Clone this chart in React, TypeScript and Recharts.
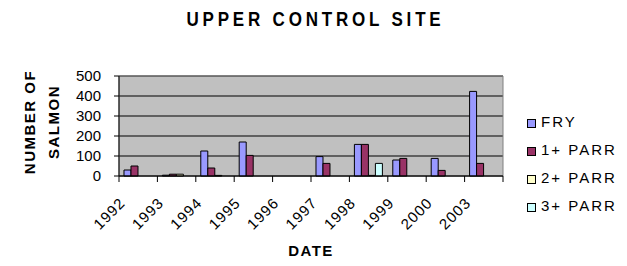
import React from "react";
import {
  BarChart,
  Bar,
  XAxis,
  YAxis,
  CartesianGrid,
  ReferenceArea,
} from "recharts";

const years = ["1992", "1993", "1994", "1995", "1996", "1997", "1998", "1999", "2000", "2003"];
const fry = [30, 4, 125, 170, 0, 97, 158, 80, 88, 423];
const parr1 = [50, 9, 40, 103, 0, 63, 158, 88, 28, 63];
const parr2 = [0, 9, 3, 0, 0, 0, 3, 0, 0, 0];
const parr3 = [0, 0, 0, 0, 0, 0, 63, 0, 0, 0];
const yTicks = [0, 100, 200, 300, 400, 500];

const series = [
  { key: "fry", name: "FRY", color: "#9999FF" },
  { key: "parr1", name: "1+ PARR", color: "#993366" },
  { key: "parr2", name: "2+ PARR", color: "#FFFFCC" },
  { key: "parr3", name: "3+ PARR", color: "#CCFFFF" },
];

const data = years.map((year, i) => ({
  year,
  fry: fry[i],
  parr1: parr1[i],
  parr2: parr2[i],
  parr3: parr3[i],
}));

const FONT = "'Liberation Sans', Arial, sans-serif";
const BAND = 38.4;

// excel style: tick marks between categories, labels slanted
function XTick(props: any) {
  const { x, y, payload, index } = props;
  const last = index === years.length - 1;
  return (
    <g>
      <line x1={x - BAND / 2} y1={y} x2={x - BAND / 2} y2={y + 6} stroke="#000" />
      {last && <line x1={x + BAND / 2} y1={y} x2={x + BAND / 2} y2={y + 6} stroke="#000" />}
      <text
        x={0}
        y={0}
        transform={`translate(${x - 12},${y + 28}) rotate(-45)`}
        textAnchor="end"
        fontSize={15}
        letterSpacing={1}
        fontFamily={FONT}
        fill="#000"
      >
        {payload.value}
      </text>
    </g>
  );
}

export default function App() {
  return (
    <div
      style={{
        position: "absolute",
        left: 0,
        top: 0,
        width: 627,
        height: 266,
        background: "#fff",
        fontFamily: FONT,
      }}
    >
      <BarChart
        width={627}
        height={266}
        data={data}
        margin={{ top: 76, right: 124, bottom: 0, left: 59 }}
        barCategoryGap="13%"
        barGap={0}
      >
        <CartesianGrid vertical={false} stroke="#000" fill="#C0C0C0" fillOpacity={1} />
        <ReferenceArea y1={0} y2={500} fill="none" stroke="#808080" strokeWidth={1} />
        <XAxis
          dataKey="year"
          tick={<XTick />}
          tickLine={false}
          tickSize={0}
          tickMargin={0}
          axisLine={{ stroke: "#000" }}
          interval={0}
          height={90}
        />
        <YAxis
          domain={[0, 500]}
          ticks={yTicks}
          interval={0}
          width={60}
          tickSize={5}
          tickLine={{ stroke: "#000" }}
          axisLine={{ stroke: "#000" }}
          tickMargin={13}
          tick={{ fontSize: 15, fill: "#000", fontFamily: FONT }}
        />
        {series.map((s) => (
          <Bar
            key={s.key}
            dataKey={s.key}
            name={s.name}
            fill={s.color}
            stroke="#000"
            strokeWidth={1}
            isAnimationActive={false}
          />
        ))}
      </BarChart>
      <div
        style={{
          position: "absolute",
          top: 11,
          left: 2,
          width: 627,
          textAlign: "center",
          fontWeight: "bold",
          fontSize: 17,
          lineHeight: "18px",
          letterSpacing: 3.8,
          transform: "scaleY(1.15)",
        }}
      >
        UPPER CONTROL SITE
      </div>
      <div
        style={{
          position: "absolute",
          left: 42,
          top: 122,
          transform: "translate(-50%, -50%) rotate(-90deg)",
          fontWeight: "bold",
          fontSize: 15,
          letterSpacing: 1.5,
          textAlign: "center",
          lineHeight: "24px",
          whiteSpace: "nowrap",
        }}
      >
        NUMBER OF
        <br />
        SALMON
      </div>
      <div
        style={{
          position: "absolute",
          top: 243,
          left: 260,
          width: 102,
          textAlign: "center",
          fontWeight: "bold",
          fontSize: 15,
          lineHeight: "15px",
          letterSpacing: 1.5,
        }}
      >
        DATE
      </div>
      {series.map((s, i) => (
        <div key={s.key}>
          <div
            style={{
              position: "absolute",
              left: 527,
              top: 119 + i * 28,
              width: 7,
              height: 7,
              background: s.color,
              border: "1px solid #000",
            }}
          />
          <div
            style={{
              position: "absolute",
              left: 541,
              top: 114 + i * 28,
              fontSize: 15,
              lineHeight: "15px",
              letterSpacing: 2,
              whiteSpace: "nowrap",
            }}
          >
            {s.name}
          </div>
        </div>
      ))}
    </div>
  );
}
